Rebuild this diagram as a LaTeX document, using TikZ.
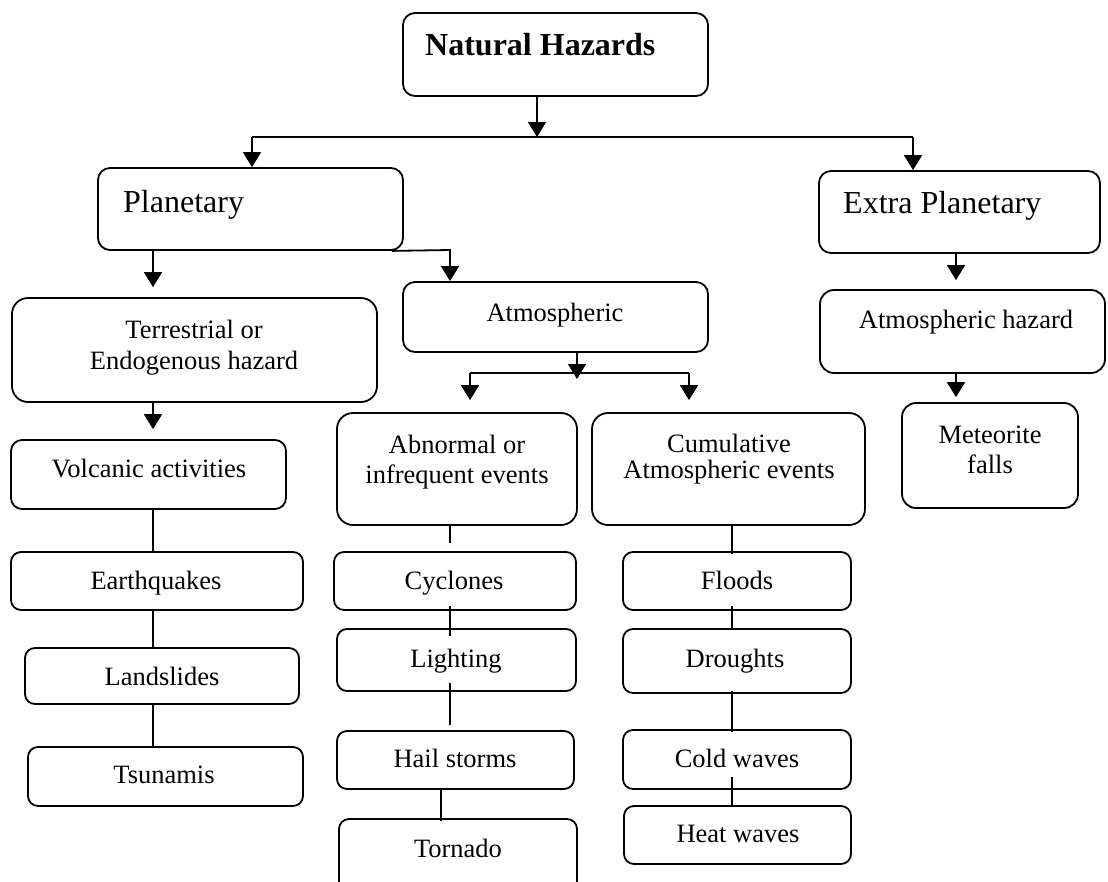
\documentclass[tikz,border=0pt]{standalone}
\usepackage{fontspec}
\setmainfont{Liberation Serif}
\usetikzlibrary{arrows.meta}
\tikzset{
  hbox/.style={draw, line width=1.8pt, inner sep=0pt, rounded corners=#1},
  big/.style={font=\fontsize{32}{36}\selectfont, inner sep=0pt, anchor=base west},
  txt/.style={font=\fontsize{26.5}{30}\selectfont, inner sep=0pt, anchor=base},
  ln/.style={line width=1.8pt},
  arr/.style={ln, -{Triangle[width=18pt,length=15pt]}},
}
% rounded box from its corners: name, x1, y1, x2, y2, corner radius
\newcommand\hzbox[6]{\node[hbox=#6pt, minimum width={(#4)-(#2)}, minimum height={(#5)-(#3)}] (#1) at ({((#2)+(#4))/2},{((#3)+(#5))/2}) {};}
\begin{document}
\begin{tikzpicture}[x=1pt,y=-1pt]
\useasboundingbox (0,0) rectangle (1108,881);
\clip (0,0) rectangle (1108,881);

% ---- boxes ----
\hzbox{nh}{403}{13}{708}{96}{12}
\hzbox{pl}{98}{168}{403}{250}{12}
\hzbox{ep}{819}{171}{1100}{253}{12}
\hzbox{ter}{12}{298}{377}{402}{16}
\hzbox{atm}{403}{282}{708}{352}{12}
\hzbox{ah}{820}{290}{1105}{373}{14}
\hzbox{met}{902}{403}{1078}{508}{14}
\hzbox{abn}{337}{413}{577}{525}{16}
\hzbox{cum}{592}{413}{865}{525}{16}
\hzbox{vol}{11}{440}{286}{509}{11}
\hzbox{eq}{11}{552}{303}{610}{10}
\hzbox{ls}{25}{648}{299}{704}{10}
\hzbox{ts}{28}{747}{303}{806}{10}
\hzbox{cyc}{334}{552}{576}{610}{10}
\hzbox{lig}{337}{629}{576}{691}{10}
\hzbox{hail}{337}{731}{574}{789}{10}
\hzbox{tor}{339}{819}{577}{895}{10}
\hzbox{fl}{623}{552}{851}{610}{10}
\hzbox{dr}{623}{629}{851}{693}{10}
\hzbox{cw}{623}{730}{851}{789}{10}
\hzbox{hw}{624}{806}{851}{864}{10}

% ---- labels ----
\node[big, font=\fontsize{32}{36}\selectfont\bfseries] (nhT) at (425,55) {Natural Hazards};
\node[big] (plT) at (123,212) {Planetary};
\node[big] (epT) at (843,213) {Extra Planetary};
\node[txt] (terT1) at (194,338) {Terrestrial or};
\node[txt] (terT2) at (194,369) {Endogenous hazard};
\node[txt] (atmT) at (555,321) {Atmospheric};
\node[txt] (ahT) at (966,328) {Atmospheric hazard};
\node[txt] (metT1) at (990,443) {Meteorite};
\node[txt] (metT2) at (990,473) {falls};
\node[txt] (abnT1) at (457,453) {Abnormal or};
\node[txt] (abnT2) at (457,483) {infrequent events};
\node[txt] (cumT1) at (729,452) {Cumulative};
\node[txt] (cumT2) at (729,478) {Atmospheric events};
\node[txt] (volT) at (149,477) {Volcanic activities};
\node[txt] (eqT) at (156,589) {Earthquakes};
\node[txt] (lsT) at (162,685) {Landslides};
\node[txt] (tsT) at (164,783) {Tsunamis};
\node[txt] (cycT) at (454,589) {Cyclones};
\node[txt] (ligT) at (456,667) {Lighting};
\node[txt] (hailT) at (455,767) {Hail storms};
\node[txt] (torT) at (458,857) {Tornado};
\node[txt] (flT) at (737,589) {Floods};
\node[txt] (drT) at (735,667) {Droughts};
\node[txt] (cwT) at (737,767) {Cold waves};
\node[txt] (hwT) at (738,842) {Heat waves};

% ---- junction points ----
\coordinate (jt) at (537,137);
\coordinate (jl) at (252,137);
\coordinate (jr) at (913,137);
\coordinate (cL) at (153,0);
\coordinate (pa) at (450,250);
\coordinate (cR) at (956,0);
\coordinate (am) at (577,379);
\coordinate (al) at (470,373);
\coordinate (ar) at (689,373);
\coordinate (cA) at (450,0);
\coordinate (cH) at (441,0);
\coordinate (cC) at (732,0);

% ---- top level ----
\draw[arr] (nh.south -| jt) -- (jt);
\draw[ln] (jl) -- (jr);
\draw[arr] (jl) -- (jl |- pl.north);
\draw[arr] (jr) -- (jr |- ep.north);

% ---- planetary branch ----
\draw[arr, shorten >=10pt] (pl.south -| cL) -- (ter.north -| cL);
\draw[arr] ([xshift=-12pt]pl.south east) -- (pa) -- (pa |- atm.north);
\draw[arr, shorten >=10pt] (ter.south -| cL) -- (vol.north -| cL);
\draw[ln] (vol.south -| cL) -- (eq.north -| cL);
\draw[ln] (eq.south -| cL) -- (ls.north -| cL);
\draw[ln] (ls.south -| cL) -- (ts.north -| cL);

% ---- atmospheric branch ----
\draw[arr] (atm.south -| am) -- (am);
\draw[ln] (al) -- (ar);
\draw[arr, shorten >=12pt] (al) -- (al |- abn.north);
\draw[arr, shorten >=12pt] (ar) -- (ar |- cum.north);

\draw[ln, shorten >=8pt] (abn.south -| cA) -- (cyc.north -| cA);
\draw[ln, shorten <=-5pt, shorten >=-8pt] (cyc.south -| cA) -- (lig.north -| cA);
\draw[ln, shorten <=-9pt, shorten >=5pt] (lig.south -| cA) -- (hail.north -| cA);
\draw[ln, shorten >=-3pt] (hail.south -| cH) -- (tor.north -| cH);

\draw[ln, shorten >=-3pt] (cum.south -| cC) -- (fl.north -| cC);
\draw[ln, shorten <=-5pt] (fl.south -| cC) -- (dr.north -| cC);
\draw[ln, shorten <=-3pt, shorten >=-3pt] (dr.south -| cC) -- (cw.north -| cC);
\draw[ln, shorten <=-13pt] (cw.south -| cC) -- (hw.north -| cC);

% ---- extra planetary branch ----
\draw[arr, shorten >=9pt] (ep.south -| cR) -- (ah.north -| cR);
\draw[arr, shorten >=5pt] (ah.south -| cR) -- (met.north -| cR);
\end{tikzpicture}
\end{document}
